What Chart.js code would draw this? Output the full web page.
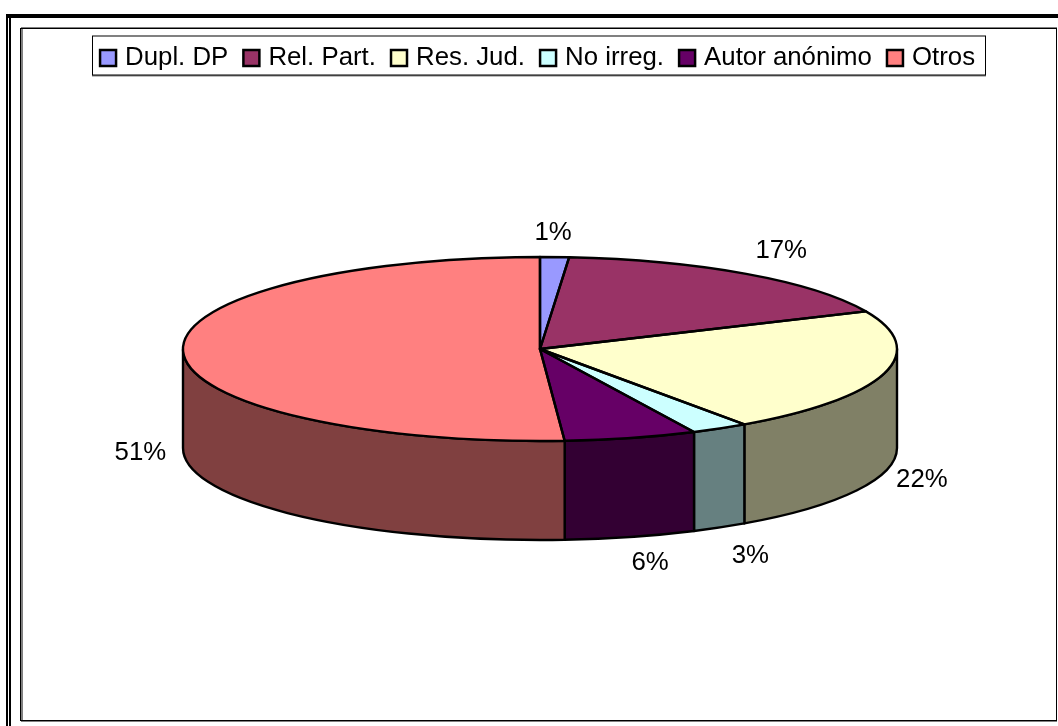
<!DOCTYPE html>
<html><head><meta charset="utf-8">
<style>html,body{margin:0;padding:0;background:#fff}#w{width:1058px;height:726px;position:relative}</style>
<script src="https://cdn.jsdelivr.net/npm/chart.js@4"></script></head>
<body><div id="w"><canvas id="c" width="1058" height="726"></canvas></div>
<script>
const categories = ['Dupl. DP','Rel. Part.','Res. Jud.','No irreg.','Autor anónimo','Otros'];
const values = [1.3,17.0,22.0,2.6,6.0,51.1];
const valueLabels = ['1%','17%','22%','3%','6%','51%'];
const topColors = ['#9999FF','#993366','#FFFFCC','#CCFFFF','#660066','#FF8080'];
const wallColors = ['#4D4D80','#4D1A33','#808066','#668080','#330033','#804040'];
const labelReachX = [0.9,1.17,1.11,1.17,1.21,1.12];
const labelReachY = [1.26,1.30,1.30,1.355,1.29,1.55];

const PIE = {cx:540, cy:349, rx:357, ry:92, depth:99};
const FONT = '25.8px "Liberation Sans", Arial, sans-serif';

const pie3d = {
  id:'pie3d',
  beforeDraw(chart){
    const c = chart.ctx;
    c.save();
    c.fillStyle='#fff'; c.fillRect(0,0,chart.width,chart.height);
    c.fillStyle='#000';
    // outer double frame
    c.fillRect(6,14,2,712); c.fillRect(9,14,2,712); c.fillRect(6,14,1052,4);
    // plot frame
    c.fillStyle='#808080';
    c.fillRect(21,27,1036,1); c.fillRect(21,28,2,693); c.fillRect(21,721,1036,1);
    c.fillStyle='#000';
    c.fillRect(20,28,1037,1); c.fillRect(20,28,1,693); c.fillRect(1056,28,1,693); c.fillRect(20,720,1037,1);
    // legend frame
    c.fillStyle='#808080';
    c.fillRect(92,35,894,2); c.fillRect(92,75,894,1.5);
    c.fillStyle='#000';
    c.fillRect(92,36,1,39); c.fillRect(985,36,1,39); c.fillRect(92,74.5,894,1);
    c.restore();
  },
  beforeDatasetsDraw(chart){
    const c = chart.ctx, arcs = chart.getDatasetMeta(0).data, P = PIE;
    c.save();
    c.lineWidth=2.4; c.strokeStyle='#000'; c.lineJoin='round';
    arcs.forEach((a,i)=>{
      const s=Math.max(a.startAngle,0), e=Math.min(a.endAngle,Math.PI);
      if(e<=s) return;
      c.beginPath();
      c.ellipse(P.cx,P.cy,P.rx,P.ry,0,s,e);
      c.ellipse(P.cx,P.cy+P.depth,P.rx,P.ry,0,e,s,true);
      c.closePath();
      c.fillStyle=wallColors[i]; c.fill(); c.stroke();
    });
    c.restore();
    // squash the library's round pie onto the tilted top face
    const a0=arcs[0], k=a0.outerRadius;
    c.save();
    c.translate(P.cx,P.cy); c.scale(P.rx/k,P.ry/k); c.translate(-a0.x,-a0.y);
  },
  afterDatasetsDraw(chart){
    const c = chart.ctx, arcs = chart.getDatasetMeta(0).data, P = PIE;
    c.restore();
    c.save();
    c.lineWidth=2.4; c.strokeStyle='#000'; c.lineJoin='round';
    arcs.forEach(a=>{
      c.beginPath();
      c.moveTo(P.cx,P.cy);
      c.ellipse(P.cx,P.cy,P.rx,P.ry,0,a.startAngle,a.endAngle);
      c.closePath(); c.stroke();
    });
    c.fillStyle='#000'; c.font=FONT; c.textAlign='center'; c.textBaseline='middle';
    arcs.forEach((a,i)=>{
      const m=(a.startAngle+a.endAngle)/2, cs=Math.cos(m), sn=Math.sin(m);
      const x=P.cx+P.rx*labelReachX[i]*cs;
      const y=P.cy+P.ry*labelReachY[i]*sn+(sn>0?P.depth:0);
      c.fillText(valueLabels[i],x,y);
    });
    c.restore();
  }
};

new Chart(document.getElementById('c'),{
  type:'pie',
  data:{labels:categories,datasets:[{data:values,backgroundColor:topColors,borderWidth:0,hoverOffset:0}]},
  options:{
    responsive:false,animation:false,
    layout:{padding:{top:26,left:21,right:0,bottom:5}},
    plugins:{
      tooltip:{enabled:false},
      legend:{
        display:true,position:'top',align:'center',
        onClick:null,
        labels:{
          usePointStyle:true,pointStyle:'rect',
          boxWidth:8.2,boxHeight:16,padding:19,
          color:'#000',
          font:{family:'"Liberation Sans", Arial, sans-serif',size:25.8},
          generateLabels(chart){
            return categories.map((t,i)=>({text:t,fillStyle:topColors[i],strokeStyle:'#000',lineWidth:2.5,pointStyle:'rect',index:i,hidden:false,fontColor:'#000'}));
          }
        }
      }
    }
  },
  plugins:[pie3d]
});
</script></body></html>
